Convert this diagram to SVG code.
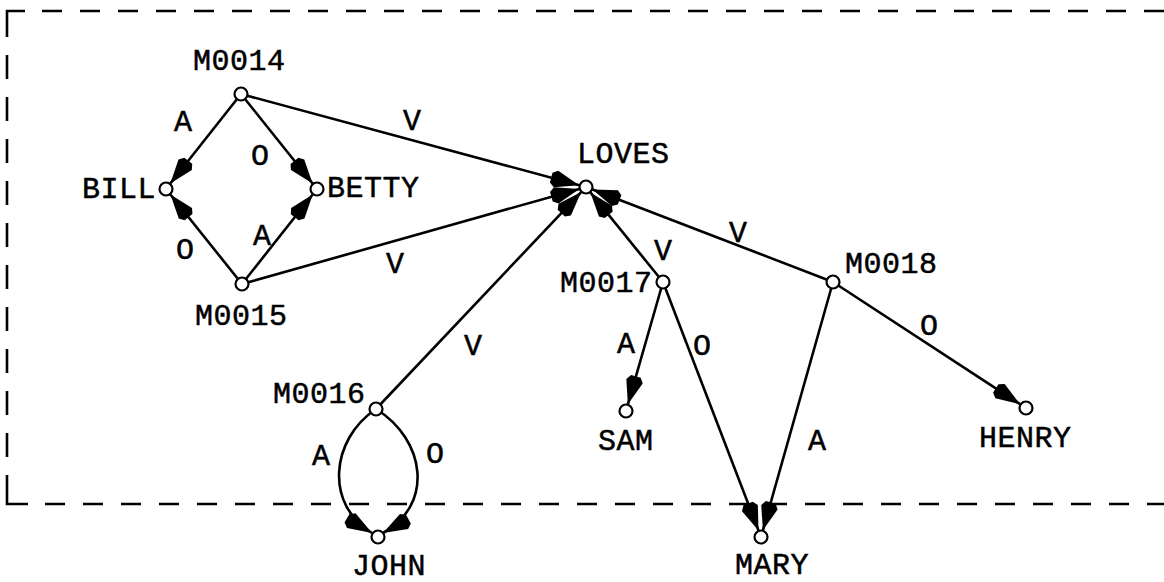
<svg xmlns="http://www.w3.org/2000/svg" width="1164" height="582" viewBox="0 0 1164 582">
<defs>
<style>
.t{font-family:"Liberation Mono","DejaVu Sans Mono",monospace;font-size:30px;letter-spacing:0.5px;fill:#000;stroke:#000;stroke-width:0.5}
.l{font-family:"Liberation Mono","DejaVu Sans Mono",monospace;font-size:30px;fill:#000;stroke:#000;stroke-width:0.5;text-anchor:middle}
.e{stroke:#000;stroke-width:2.6;fill:none;marker-end:url(#ah)}
.n{fill:#fff;stroke:#000;stroke-width:2.2}
.b{stroke:#000;stroke-width:2.6;fill:none}
</style>
<marker id="ah" markerUnits="userSpaceOnUse" markerWidth="32" markerHeight="20" refX="29" refY="8.5" orient="auto" overflow="visible">
<path d="M29,8.5 L5,0 L0,3.5 L0,13.5 L5,17 z" fill="#000"/>
</marker>
</defs>
<rect width="1164" height="582" fill="#fff"/>
<g id="frame">
<path class="b" d="M7,37 V11 H25"/>
<path class="b" d="M42,11 H1164" stroke-dasharray="20 18"/>
<path class="b" d="M7,55 V458" stroke-dasharray="24 18"/>
<path class="b" d="M7,475 V504 H28"/>
<path class="b" d="M45,504 H1164" stroke-dasharray="20 18"/>
</g>
<g id="connectors">
<path class="e" d="M241,94 L170.3,183.5"/>
<path class="e" d="M241,94 L312.6,183.5"/>
<path class="e" d="M242,284 L170.4,194.5"/>
<path class="e" d="M242,284 L312.7,194.5"/>
<path class="e" d="M241,94 L579.2,185.2"/>
<path class="e" d="M242,284 L579.3,188.9"/>
<path class="e" d="M376,409 L581.2,192.1"/>
<path class="e" d="M663,282 L590.4,192.4"/>
<path class="e" d="M833,282 L592.5,189.5"/>
<path class="e" d="M663,282 L627.9,404.3"/>
<path class="e" d="M663,282 L758.5,530.5"/>
<path class="e" d="M833,282 L762.9,530.3"/>
<path class="e" d="M833,282 L1020.1,404.2"/>
<path class="e" d="M376,409 C330,440 325,505 372,533"/>
<path class="e" d="M376,409 C426,440 434,505 383,533"/>
<text class="l" x="183" y="131">A</text>
<text class="l" x="260" y="165">O</text>
<text class="l" x="185" y="259">O</text>
<text class="l" x="262" y="245">A</text>
<text class="l" x="412" y="130">V</text>
<text class="l" x="395" y="273">V</text>
<text class="l" x="473" y="355">V</text>
<text class="l" x="663" y="260">V</text>
<text class="l" x="738" y="242">V</text>
<text class="l" x="626" y="353">A</text>
<text class="l" x="702" y="355">O</text>
<text class="l" x="817" y="450">A</text>
<text class="l" x="929" y="335">O</text>
<text class="l" x="321" y="465">A</text>
<text class="l" x="435" y="463">O</text>
</g>
<g id="M0014"><circle class="n" cx="241" cy="94" r="6.5"/><text class="t" x="193" y="70">M0014</text></g>
<g id="BILL"><circle class="n" cx="166" cy="189" r="6.5"/><text class="t" x="82" y="198">BILL</text></g>
<g id="BETTY"><circle class="n" cx="317" cy="189" r="6.5"/><text class="t" x="327" y="197">BETTY</text></g>
<g id="M0015"><circle class="n" cx="242" cy="284" r="6.5"/><text class="t" x="195" y="325">M0015</text></g>
<g id="LOVES"><circle class="n" cx="586" cy="187" r="6.5"/><text class="t" x="577" y="163">LOVES</text></g>
<g id="M0016"><circle class="n" cx="376" cy="409" r="6.5"/><text class="t" x="273" y="403">M0016</text></g>
<g id="JOHN"><circle class="n" cx="378" cy="537" r="6.5"/><text class="t" x="352" y="575">JOHN</text></g>
<g id="M0017"><circle class="n" cx="663" cy="282" r="6.5"/><text class="t" x="560" y="292">M0017</text></g>
<g id="SAM"><circle class="n" cx="626" cy="411" r="6.5"/><text class="t" x="598" y="450">SAM</text></g>
<g id="M0018"><circle class="n" cx="833" cy="282" r="6.5"/><text class="t" x="845" y="273">M0018</text></g>
<g id="MARY"><circle class="n" cx="761" cy="537" r="6.5"/><text class="t" x="735" y="574">MARY</text></g>
<g id="HENRY"><circle class="n" cx="1026" cy="408" r="6.5"/><text class="t" x="979" y="447">HENRY</text></g>
</svg>
